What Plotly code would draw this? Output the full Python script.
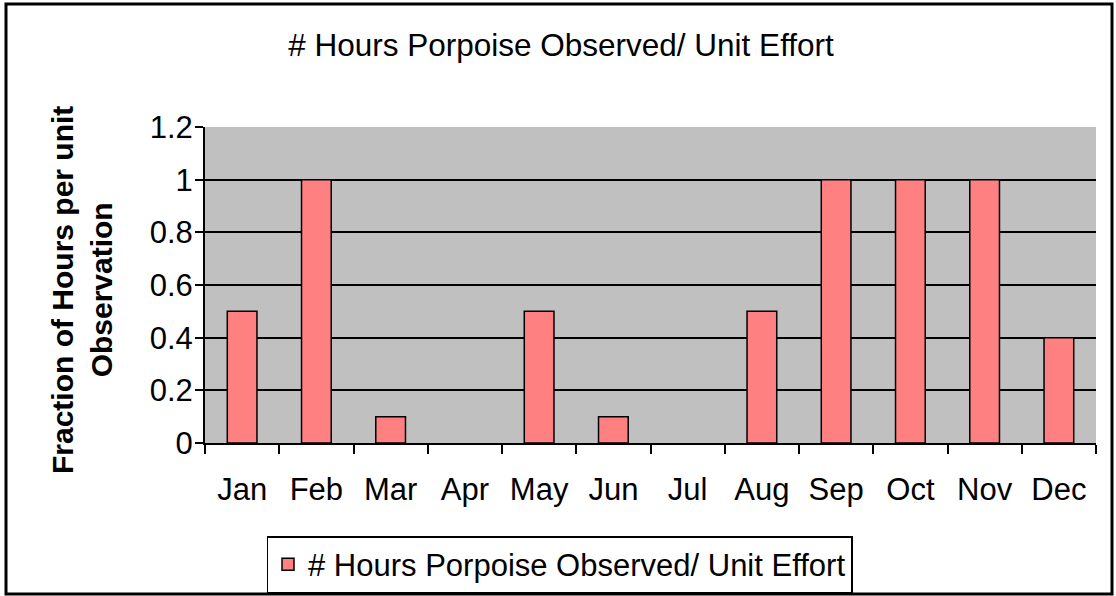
import plotly.graph_objects as go

months = ["Jan", "Feb", "Mar", "Apr", "May", "Jun", "Jul", "Aug", "Sep", "Oct", "Nov", "Dec"]
values = [0.5, 1.0, 0.1, 0, 0.5, 0.1, 0, 0.5, 1.0, 1.0, 1.0, 0.4]
series_name = "# Hours Porpoise Observed/ Unit Effort"
title_text = "# Hours Porpoise Observed/ Unit Effort"
y_title = "Fraction of Hours per unit<br>Observation"

W, H = 1116, 596
L, R, T, B = 205, 20, 127, 153
pw, ph = W - L - R, H - T - B

def px_x(x):
    return (x - L) / pw

def px_y(y):
    return (H - B - y) / ph

FONT = "Liberation Sans, Arial, sans-serif"

# zero-height bars are drawn without an outline (as in the reference)
outline_widths = [1.5 if v > 0 else 0 for v in values]

fig = go.Figure()
fig.add_trace(go.Bar(
    x=months, y=values, name=series_name, width=0.4,
    marker=dict(color="#FF8080", line=dict(color="black", width=outline_widths)),
    showlegend=True, hoverinfo="skip",
))

fig.update_layout(
    width=W, height=H,
    margin=dict(l=L, r=R, t=T, b=B, autoexpand=False),
    paper_bgcolor="white", plot_bgcolor="#C0C0C0",
    font=dict(family=FONT, size=30, color="black"),
    showlegend=True,
    title=dict(text=title_text, x=561 / W, xref="container", xanchor="center",
               y=1 - 45 / H, yref="container", yanchor="middle",
               font=dict(size=31.5, family=FONT, color="black")),
    xaxis=dict(
        type="category", range=[-0.5, 11.5], tickson="boundaries",
        ticks="outside", ticklen=9, tickwidth=2, tickcolor="black",
        showline=True, linecolor="black", linewidth=2,
        showgrid=False, zeroline=False, fixedrange=True,
        tickfont=dict(size=31, family=FONT), ticklabelstandoff=18,
    ),
    yaxis=dict(
        range=[0, 1.2], dtick=0.2, tick0=0,
        ticks="outside", ticklen=8, tickwidth=2, tickcolor="black",
        showline=True, linecolor="black", linewidth=2,
        showgrid=True, gridcolor="black", gridwidth=1.5,
        zeroline=False, fixedrange=True,
        tickfont=dict(size=31, family=FONT), ticklabelstandoff=-4,
    ),
    legend=dict(
        x=px_x(559.5), y=px_y(536), xanchor="center", yanchor="top",
        orientation="h", bordercolor="black", borderwidth=1.5,
        bgcolor="white", font=dict(size=31, family=FONT),
    ),
    bargap=0.6,
)

fig.add_annotation(
    text=y_title, xref="paper", yref="paper",
    x=px_x(82), y=px_y(290), xanchor="center", yanchor="middle",
    textangle=-90, showarrow=False,
    font=dict(size=30, family=FONT, color="black", weight="bold"),
)

fig.add_shape(
    type="rect", xref="paper", yref="paper",
    x0=px_x(6), x1=px_x(1112), y0=px_y(594), y1=px_y(4),
    line=dict(color="black", width=3), layer="above",
)

fig.write_html("out.html", config={"displayModeBar": False},
               post_script="document.body.style.margin='0';")
